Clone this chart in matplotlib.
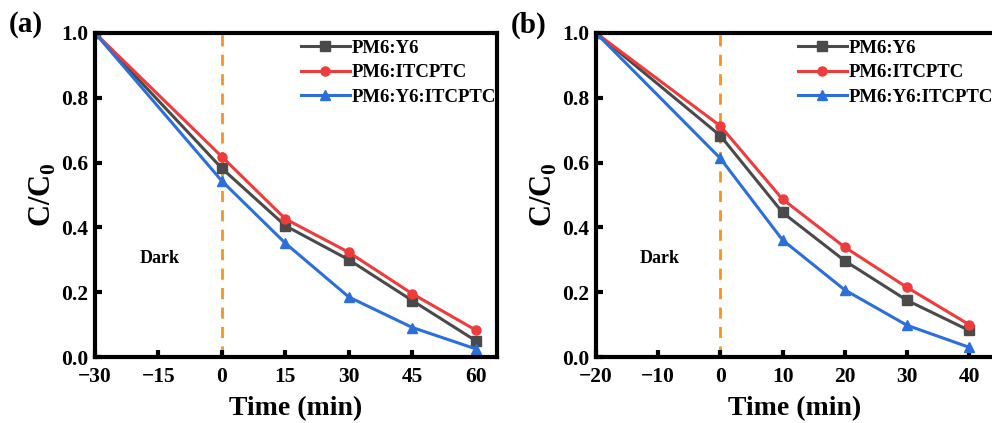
import matplotlib
matplotlib.use("Agg")
import matplotlib.pyplot as plt

plt.rcParams['font.family'] = ['Liberation Serif', 'DejaVu Serif']
plt.rcParams['font.weight'] = 'bold'
plt.rcParams['mathtext.fontset'] = 'custom'
plt.rcParams['mathtext.rm'] = 'Liberation Serif:bold'
plt.rcParams['mathtext.bf'] = 'Liberation Serif:bold'

series_names = ["PM6:Y6", "PM6:ITCPTC", "PM6:Y6:ITCPTC"]
colors = ["#4a4a4a", "#ee3b3b", "#2a6fdc"]
markers = ["s", "o", "^"]

time_a = [-30, 0, 15, 30, 45, 60]
y6_a = [1.0, 0.582, 0.405, 0.300, 0.174, 0.050]
itc_a = [1.0, 0.618, 0.426, 0.323, 0.195, 0.083]
mix_a = [1.0, 0.543, 0.351, 0.185, 0.091, 0.025]

time_b = [-20, 0, 10, 20, 30, 40]
y6_b = [1.0, 0.683, 0.446, 0.297, 0.175, 0.082]
itc_b = [1.0, 0.713, 0.487, 0.339, 0.215, 0.100]
mix_b = [1.0, 0.613, 0.361, 0.207, 0.098, 0.030]

xticks_a = [-30, -15, 0, 15, 30, 45, 60]
xticks_b = [-20, -10, 0, 10, 20, 30, 40]
yticks = [0.0, 0.2, 0.4, 0.6, 0.8, 1.0]

fig = plt.figure(figsize=(9.92, 4.23), dpi=100)
ax_a = fig.add_axes([95/992, 66/423, 402/992, 324/423])
ax_b = fig.add_axes([596/992, 66/423, 398/992, 324/423])

def draw(ax, t, ys, xticks, xlim, label):
    for y, c, m, n in zip(ys, colors, markers, series_names):
        ax.plot(t, y, color=c, marker=m, markersize=6.5, linewidth=2.2, label=n)
    ax.axvline(0, color="#f7931e", linestyle=(0, (4, 3)), linewidth=2, zorder=0)
    ax.set_xlim(*xlim)
    ax.set_ylim(0, 1.0)
    ax.set_xticks(xticks)
    ax.set_xticklabels([("\u2212" + str(-v)) if v < 0 else str(v) for v in xticks])
    ax.set_yticks(yticks)
    ax.set_yticklabels([f"{v:.1f}" for v in yticks])
    ax.tick_params(direction='in', width=3, length=5, labelsize=15.5, pad=5)
    ax.tick_params(axis='x', pad=7)
    for s in ax.spines.values():
        s.set_linewidth(3)
    ax.set_xlabel("Time (min)", fontsize=20, fontweight='bold', labelpad=7)
    ax.set_ylabel(r"C/C$_\mathbf{0}$", fontsize=22, fontweight='bold', labelpad=2)
    ax.text(0.11, 0.305, "Dark", transform=ax.transAxes, fontsize=13, fontweight='bold', va='center')
    ax.text(-0.215, 1.025, label, transform=ax.transAxes, fontsize=21, fontweight='bold', va='center')
    ax.legend(loc='upper right', bbox_to_anchor=(1.03, 1.02), frameon=False,
              handlelength=2.6, handletextpad=0.1, labelspacing=0.4, borderaxespad=0.3,
              prop={'weight': 'bold', 'size': 13.5})

draw(ax_a, time_a, [y6_a, itc_a, mix_a], xticks_a, (-30, 65), "(a)")
draw(ax_b, time_b, [y6_b, itc_b, mix_b], xticks_b, (-20, 44), "(b)")

fig.savefig("out.png", dpi=100)
